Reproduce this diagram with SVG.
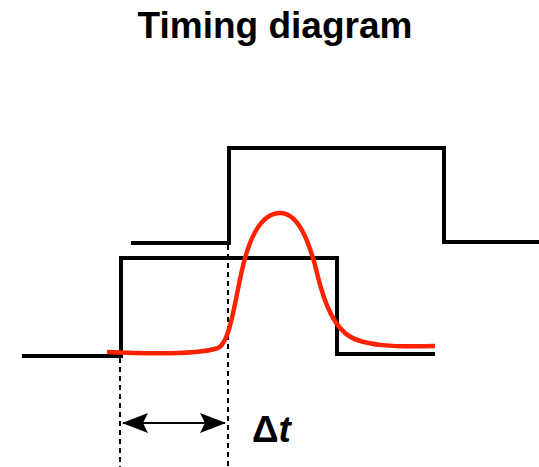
<svg xmlns="http://www.w3.org/2000/svg" width="539" height="467" viewBox="0 0 539 467">
<style>
.wave{fill:none;stroke:#000;stroke-width:4;stroke-linejoin:miter}
.dash{fill:none;stroke:#000;stroke-width:2;stroke-dasharray:5,4}
.sig{fill:none;stroke:#ff2200;stroke-width:4.5;stroke-linecap:butt}
.title{font-family:"Liberation Sans",Arial,sans-serif;font-weight:bold;font-size:37px;fill:#000}
</style>
<defs>
<marker id="ah" markerWidth="13" markerHeight="10" refX="12.5" refY="5" orient="auto-start-reverse" markerUnits="strokeWidth">
<path d="M0,0 L13,5 L0,10 L2.5,5 Z" fill="#000"/>
</marker>
</defs>
<rect width="539" height="467" fill="#fff"/>
<text class="title" x="275" y="38" text-anchor="middle">Timing diagram</text>
<g id="connectors">
<path class="dash" d="M120,358 V467"/>
<path class="dash" d="M228,245 V467"/>
<path d="M123,423 H225" stroke="#000" stroke-width="2" fill="none" marker-start="url(#ah)" marker-end="url(#ah)"/>
</g>
<g id="upper">
<path class="wave" d="M131,243 H229 V148 H444 V242 H539"/>
</g>
<g id="lower">
<path class="wave" d="M22,356 H121 V258 H337 V354 H435"/>
</g>
<g id="signal">
<path class="sig" d="M107,352 C150,354 200,354 218,348 C230,343 235,300 242,270 C250,235 262,213 280,213 C298,213 308,240 315,265 C322,295 330,320 345,333 C360,347 400,347 435,346"/>
</g>
<g id="label">
<text class="title" x="252" y="442" font-size="38">Δ<tspan font-style="italic">t</tspan></text>
</g>
</svg>
